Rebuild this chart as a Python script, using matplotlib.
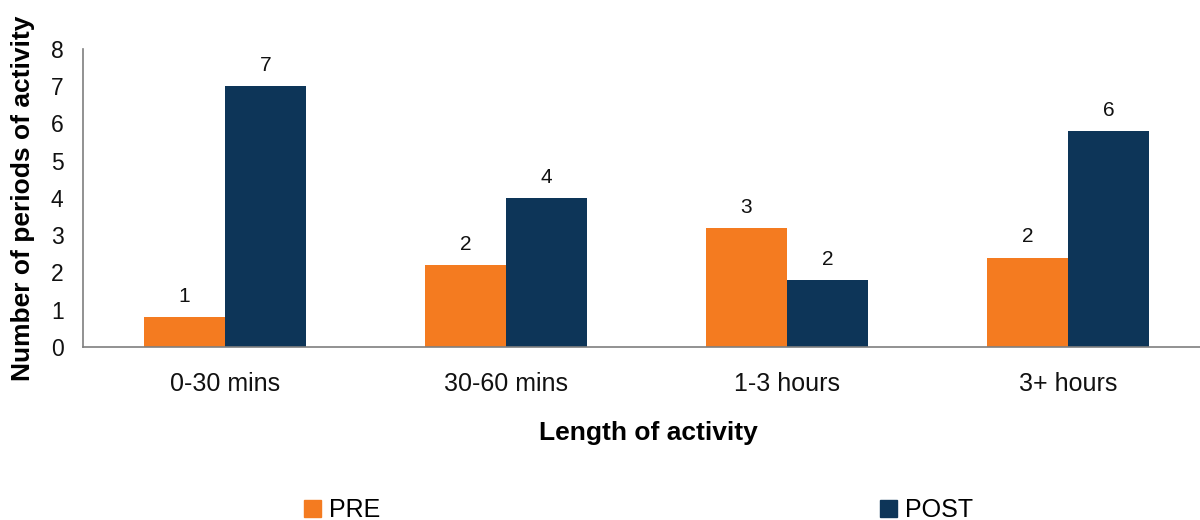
import numpy as np
import matplotlib.pyplot as plt
from matplotlib.patches import Patch

# length of activity vs number of periods, before and after
categories = ["0-30 mins", "30-60 mins", "1-3 hours", "3+ hours"]
pre_values = [0.8, 2.2, 3.2, 2.4]
post_values = [7.0, 4.0, 1.8, 5.8]
series_names = ["PRE", "POST"]
colors = ["#F47B20", "#0D3558"]

plt.rcParams['font.family'] = ['Liberation Sans', 'DejaVu Sans']

fig = plt.figure(figsize=(12, 5.2), dpi=100)
ax = fig.add_axes([83/1200, 0.3327, 1 - 83/1200, 0.5731])

x = np.arange(len(categories))
w = 0.288
bars_pre = ax.bar(x - w/2, pre_values, w, color=colors[0])
bars_post = ax.bar(x + w/2, post_values, w, color=colors[1])

# value labels, rounded to whole periods
for bars in (bars_pre, bars_post):
    for b in bars:
        v = b.get_height()
        ax.text(b.get_x() + b.get_width()/2, v + 0.3, f"{v:.0f}",
                ha='center', va='bottom', fontsize=15, color='#111111')

ax.set_xlim(-0.505, 3.47)
ax.set_ylim(0, 8)
ax.set_yticks(range(0, 9))
ax.set_xticks(x)
ax.set_xticklabels(categories)
ax.tick_params(axis='both', length=0, colors='#111111')
ax.tick_params(axis='x', pad=18, labelsize=18)
ax.tick_params(axis='y', pad=14, labelsize=16.5)

for side in ('top', 'right'):
    ax.spines[side].set_visible(False)
for side in ('left', 'bottom'):
    ax.spines[side].set_color('#7f7f7f')
    ax.spines[side].set_linewidth(1.2)

ax.set_xlabel("Length of activity", fontsize=19, fontweight='bold')
ax.xaxis.set_label_coords(0.506, -0.25)
ax.set_ylabel("Number of periods of activity", fontsize=19, fontweight='bold')
ax.yaxis.set_label_coords(-0.043, 0.5)

handles = [Patch(color=c) for c in colors]
fig.legend(handles, series_names, loc='center', bbox_to_anchor=(0.532, 0.019),
           ncol=2, frameon=False, fontsize=18, handlelength=0.68, handleheight=0.68,
           handletextpad=0.32, columnspacing=20)

fig.savefig("out.png", dpi=100)
